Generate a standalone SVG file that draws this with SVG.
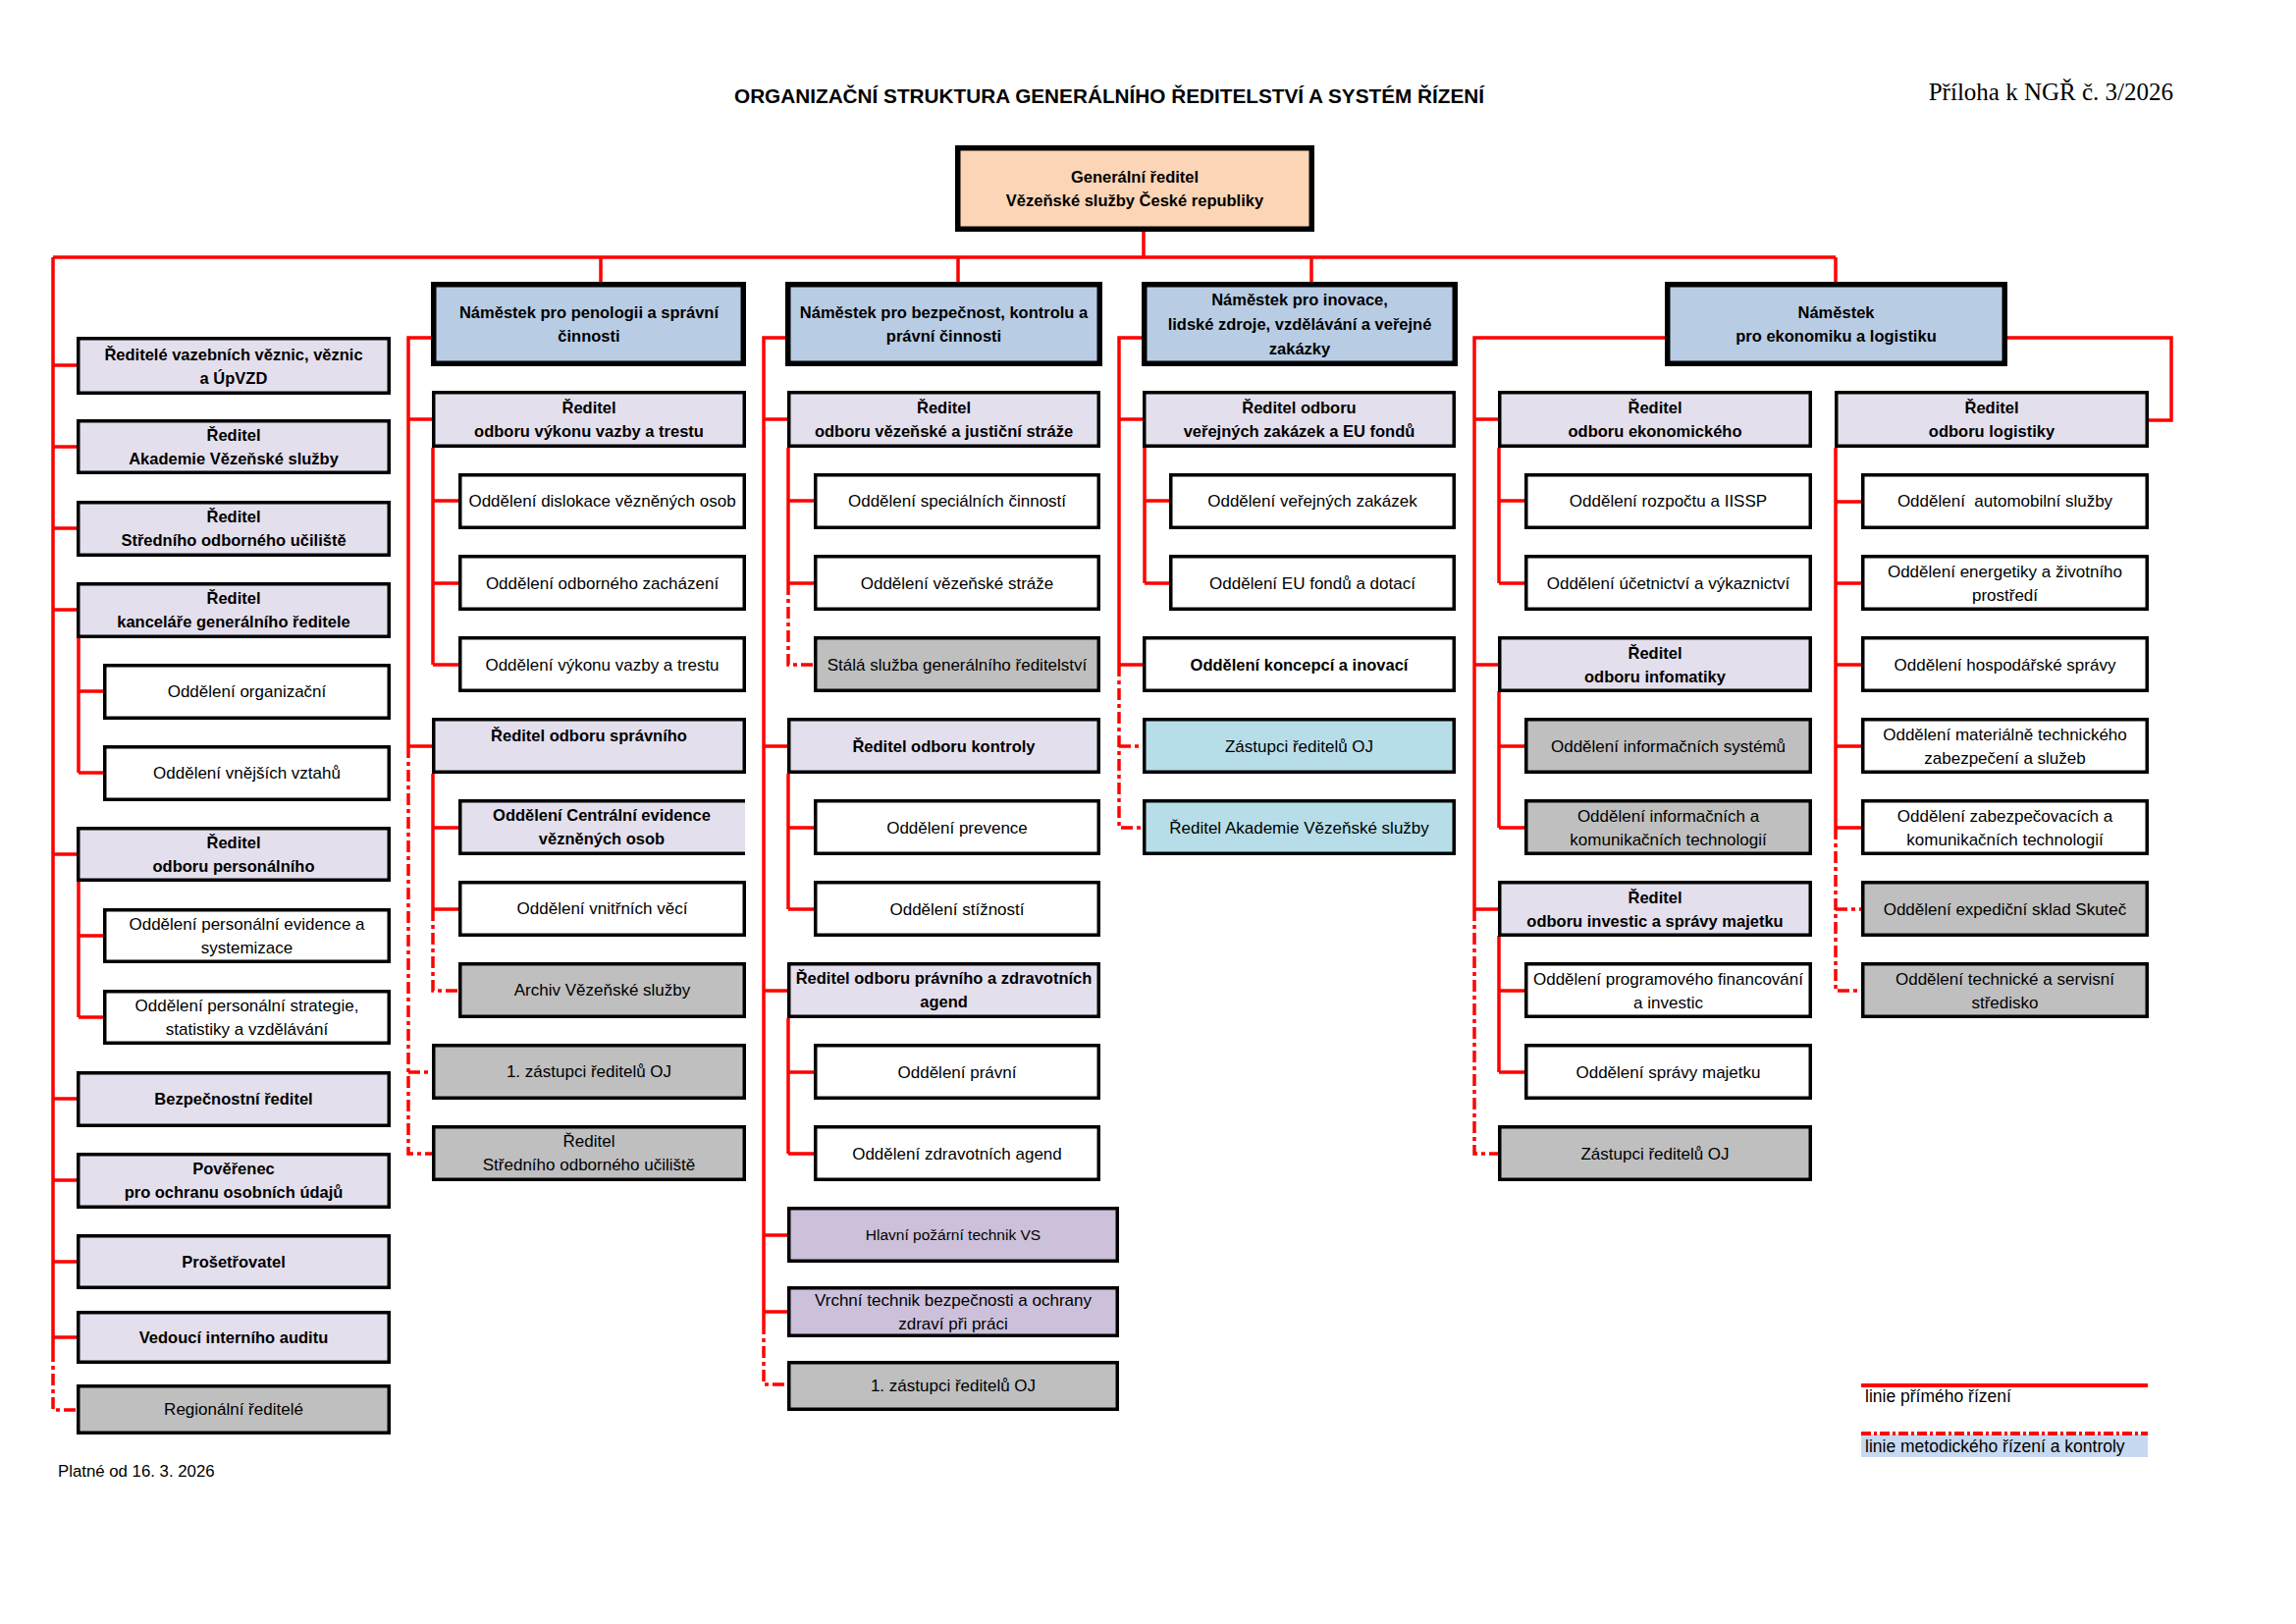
<svg xmlns="http://www.w3.org/2000/svg" width="2339" height="1654" viewBox="0 0 2339 1654">
<style>
rect.bx{stroke:#000;stroke-width:3.5}
rect.nm{stroke:#000;stroke-width:5.5;fill:#B8CCE4}
.lav{fill:#E4DFEC}.wh{fill:#FFFFFF}.gr{fill:#BFBFBF}.lb{fill:#B7DEE8}.pu{fill:#CCC0DA}
text{font-family:"Liberation Sans",Arial,sans-serif;fill:#000;text-anchor:middle}
.r{font-size:17px}
.b{font-size:16.5px;font-weight:bold}
.s{font-size:15.5px}
.ln{fill:none;stroke:#FF0000;stroke-width:3.5}
.ds{fill:none;stroke:#FF0000;stroke-width:3.5;stroke-dasharray:12 4 4 4}
</style>
<rect x="0" y="0" width="2339" height="1654" fill="#fff"/>
<text x="1130" y="105" style="font-size:20px;font-weight:bold" textLength="764" lengthAdjust="spacingAndGlyphs">ORGANIZAČNÍ STRUKTURA GENERÁLNÍHO ŘEDITELSTVÍ A SYSTÉM ŘÍZENÍ</text>
<text x="2214" y="102" style="font-family:'Liberation Serif',serif;font-size:25px;text-anchor:end">Příloha k NGŘ č. 3/2026</text>
<text x="59" y="1504" style="font-size:16.8px;text-anchor:start">Platné od 16. 3. 2026</text>

<g id="connectors">
<path class="ln" d="M1165,236V262M54,262H1870M612,262V287M976,262V287M1336,262V287M1870,262V287
M54,262V1375M54,372H78M54,455H78M54,538H78M54,621H78M54,870H78M54,1119H78M54,1202H78M54,1285H78M54,1362H78
M80,650V787M80,704H105M80,787H105M80,898V1036M80,953H105M80,1036H105
M439,344H416V760M416,427H440M416,760H440
M441,456V677M441,510H467M441,594H467M441,677H467M441,788V926M441,843H467M441,926H467
M800,344H778V1347M778,427H802M778,760H802M778,1009H802M778,1258H802M778,1336H802
M803,456V594M803,510H829M803,594H829M803,788V926M803,843H829M803,926H829M803,1037V1175M803,1092H829M803,1175H829
M1163,344H1140V677M1140,427H1164M1140,677H1164M1166,456V594M1166,510H1191M1166,594H1191
M1696,344H1502V926M1502,427H1526M1502,677H1526M1502,926H1526
M1527,456V594M1527,510H1553M1527,594H1553M1527,704V843M1527,760H1553M1527,843H1553M1527,953V1092M1527,1009H1553M1527,1092H1553
M2045,344H2212V428H2189M1870,456V843M1870,511H1896M1870,594H1896M1870,677H1896M1870,760H1896M1870,843H1896"/>
<path class="ds" d="M54,1375V1436H78M416,760V1175H440M416,1092H440M441,926V1009H467M778,1347V1410H802M803,594V677H829
M1140,677V843H1164M1140,760H1164M1502,926V1175H1526M1870,843V1009H1896M1870,926H1896"/>
</g>

<g id="gr"><rect x="975.75" y="150.75" width="360.5" height="82.5" style="fill:#FBD5B5;stroke:#000;stroke-width:5.5"/><text class="b" x="1156" y="186">Generální ředitel</text><text class="b" x="1156" y="210">Vězeňské služby České republiky</text></g>

<g id="nam-pen"><rect class="nm" x="441.75" y="289.75" width="315.5" height="80.5"/><text class="b" x="600" y="324">Náměstek pro penologii a správní</text><text class="b" x="600" y="348">činnosti</text></g>
<g id="nam-bez"><rect class="nm" x="802.75" y="289.75" width="317.5" height="80.5"/><text class="b" x="961.5" y="324">Náměstek pro bezpečnost, kontrolu a</text><text class="b" x="961.5" y="348">právní činnosti</text></g>
<g id="nam-ino"><rect class="nm" x="1165.75" y="289.75" width="316.5" height="80.5"/><text class="b" x="1324" y="311">Náměstek pro inovace,</text><text class="b" x="1324" y="336">lidské zdroje, vzdělávání a veřejné</text><text class="b" x="1324" y="361">zakázky</text></g>
<g id="nam-eko"><rect class="nm" x="1698.75" y="289.75" width="343.5" height="80.5"/><text class="b" x="1870.5" y="324">Náměstek</text><text class="b" x="1870.5" y="348">pro ekonomiku a logistiku</text></g>

<!-- left column -->
<g id="l1"><rect class="bx lav" x="79.75" y="344.75" width="316.5" height="55.5"/><text class="b" x="238" y="366.5">Ředitelé vazebních věznic, věznic</text><text class="b" x="238" y="390.5">a ÚpVZD</text></g>
<g id="l2"><rect class="bx lav" x="79.75" y="428.75" width="316.5" height="52.5"/><text class="b" x="238" y="449">Ředitel</text><text class="b" x="238" y="473">Akademie Vězeňské služby</text></g>
<g id="l3"><rect class="bx lav" x="79.75" y="511.75" width="316.5" height="53.5"/><text class="b" x="238" y="532">Ředitel</text><text class="b" x="238" y="556">Středního odborného učiliště</text></g>
<g id="l4"><rect class="bx lav" x="79.75" y="594.75" width="316.5" height="53.5"/><text class="b" x="238" y="615">Ředitel</text><text class="b" x="238" y="639">kanceláře generálního ředitele</text></g>
<g id="l5"><rect class="bx wh" x="106.75" y="677.75" width="289.5" height="53.5"/><text class="r" x="251.5" y="710">Oddělení organizační</text></g>
<g id="l6"><rect class="bx wh" x="106.75" y="760.75" width="289.5" height="53.5"/><text class="r" x="251.5" y="793">Oddělení vnějších vztahů</text></g>
<g id="l7"><rect class="bx lav" x="79.75" y="843.75" width="316.5" height="52.5"/><text class="b" x="238" y="864">Ředitel</text><text class="b" x="238" y="888">odboru personálního</text></g>
<g id="l8"><rect class="bx wh" x="106.75" y="926.75" width="289.5" height="52.5"/><text class="r" x="251.5" y="947">Oddělení personální evidence a</text><text class="r" x="251.5" y="971">systemizace</text></g>
<g id="l9"><rect class="bx wh" x="106.75" y="1009.75" width="289.5" height="52.5"/><text class="r" x="251.5" y="1030">Oddělení personální strategie,</text><text class="r" x="251.5" y="1054">statistiky a vzdělávání</text></g>
<g id="l10"><rect class="bx lav" x="79.75" y="1092.75" width="316.5" height="53.5"/><text class="b" x="238" y="1125">Bezpečnostní ředitel</text></g>
<g id="l11"><rect class="bx lav" x="79.75" y="1175.75" width="316.5" height="53.5"/><text class="b" x="238" y="1196">Pověřenec</text><text class="b" x="238" y="1220">pro ochranu osobních údajů</text></g>
<g id="l12"><rect class="bx lav" x="79.75" y="1258.75" width="316.5" height="52.5"/><text class="b" x="238" y="1291">Prošetřovatel</text></g>
<g id="l13"><rect class="bx lav" x="79.75" y="1336.75" width="316.5" height="50.5"/><text class="b" x="238" y="1368">Vedoucí interního auditu</text></g>
<g id="l14"><rect class="bx gr" x="79.75" y="1411.75" width="316.5" height="47.5"/><text class="r" x="238" y="1441">Regionální ředitelé</text></g>

<!-- penologie -->
<g id="p1"><rect class="bx lav" x="441.75" y="399.75" width="316.5" height="54.5"/><text class="b" x="600" y="421">Ředitel</text><text class="b" x="600" y="445">odboru výkonu vazby a trestu</text></g>
<g id="p2"><rect class="bx wh" x="468.75" y="483.75" width="289.5" height="53.5"/><text class="r" x="613.5" y="516">Oddělení dislokace vězněných osob</text></g>
<g id="p3"><rect class="bx wh" x="468.75" y="566.75" width="289.5" height="53.5"/><text class="r" x="613.5" y="600">Oddělení odborného zacházení</text></g>
<g id="p4"><rect class="bx wh" x="468.75" y="649.75" width="289.5" height="53.5"/><text class="r" x="613.5" y="683">Oddělení výkonu vazby a trestu</text></g>
<g id="p5"><rect class="bx lav" x="441.75" y="732.75" width="316.5" height="53.5"/><text class="b" x="600" y="755">Ředitel odboru správního</text></g>
<g id="p6"><rect class="lav" x="467" y="814" width="292" height="57"/><path d="M759,815.75H468.75V869.25H759" fill="none" stroke="#000" stroke-width="3.5"/><text class="b" x="613" y="836">Oddělení Centrální evidence</text><text class="b" x="613" y="860">vězněných osob</text></g>
<g id="p7"><rect class="bx wh" x="468.75" y="898.75" width="289.5" height="53.5"/><text class="r" x="613.5" y="931">Oddělení vnitřních věcí</text></g>
<g id="p8"><rect class="bx gr" x="468.75" y="981.75" width="289.5" height="53.5"/><text class="r" x="613.5" y="1014">Archiv Vězeňské služby</text></g>
<g id="p9"><rect class="bx gr" x="441.75" y="1064.75" width="316.5" height="53.5"/><text class="r" x="600" y="1097">1. zástupci ředitelů OJ</text></g>
<g id="p10"><rect class="bx gr" x="441.75" y="1147.75" width="316.5" height="53.5"/><text class="r" x="600" y="1168">Ředitel</text><text class="r" x="600" y="1192">Středního odborného učiliště</text></g>

<!-- bezpecnost -->
<g id="b1"><rect class="bx lav" x="803.75" y="399.75" width="315.5" height="54.5"/><text class="b" x="961.5" y="421">Ředitel</text><text class="b" x="961.5" y="445">odboru vězeňské a justiční stráže</text></g>
<g id="b2"><rect class="bx wh" x="830.75" y="483.75" width="288.5" height="53.5"/><text class="r" x="975" y="516">Oddělení speciálních činností</text></g>
<g id="b3"><rect class="bx wh" x="830.75" y="566.75" width="288.5" height="53.5"/><text class="r" x="975" y="600">Oddělení vězeňské stráže</text></g>
<g id="b4"><rect class="bx gr" x="830.75" y="649.75" width="288.5" height="53.5"/><text class="r" x="975" y="683">Stálá služba generálního ředitelství</text></g>
<g id="b5"><rect class="bx lav" x="803.75" y="732.75" width="315.5" height="53.5"/><text class="b" x="961.5" y="766">Ředitel odboru kontroly</text></g>
<g id="b6"><rect class="bx wh" x="830.75" y="815.75" width="288.5" height="53.5"/><text class="r" x="975" y="849">Oddělení prevence</text></g>
<g id="b7"><rect class="bx wh" x="830.75" y="898.75" width="288.5" height="53.5"/><text class="r" x="975" y="932">Oddělení stížností</text></g>
<g id="b8"><rect class="bx lav" x="803.75" y="981.75" width="315.5" height="53.5"/><text class="b" x="961.5" y="1002">Ředitel odboru právního a zdravotních</text><text class="b" x="961.5" y="1026">agend</text></g>
<g id="b9"><rect class="bx wh" x="830.75" y="1064.75" width="288.5" height="53.5"/><text class="r" x="975" y="1098">Oddělení právní</text></g>
<g id="b10"><rect class="bx wh" x="830.75" y="1147.75" width="288.5" height="53.5"/><text class="r" x="975" y="1181">Oddělení zdravotních agend</text></g>
<g id="b11"><rect class="bx pu" x="803.75" y="1230.75" width="334.5" height="53.5"/><text class="s" x="971" y="1263">Hlavní požární technik VS</text></g>
<g id="b12"><rect class="bx pu" x="803.75" y="1311.75" width="334.5" height="48.5"/><text class="r" x="971" y="1330">Vrchní technik bezpečnosti a ochrany</text><text class="r" x="971" y="1354">zdraví při práci</text></g>
<g id="b13"><rect class="bx gr" x="803.75" y="1387.75" width="334.5" height="47.5"/><text class="r" x="971" y="1417">1. zástupci ředitelů OJ</text></g>

<!-- inovace -->
<g id="i1"><rect class="bx lav" x="1165.75" y="399.75" width="315.5" height="54.5"/><text class="b" x="1323.5" y="421">Ředitel odboru</text><text class="b" x="1323.5" y="445">veřejných zakázek a EU fondů</text></g>
<g id="i2"><rect class="bx wh" x="1192.75" y="483.75" width="288.5" height="53.5"/><text class="r" x="1337" y="516">Oddělení veřejných zakázek</text></g>
<g id="i3"><rect class="bx wh" x="1192.75" y="566.75" width="288.5" height="53.5"/><text class="r" x="1337" y="600">Oddělení EU fondů a dotací</text></g>
<g id="i4"><rect class="bx wh" x="1165.75" y="649.75" width="315.5" height="53.5"/><text class="b" x="1323.5" y="683">Oddělení koncepcí a inovací</text></g>
<g id="i5"><rect class="bx lb" x="1165.75" y="732.75" width="315.5" height="53.5"/><text class="r" x="1323.5" y="766">Zástupci ředitelů OJ</text></g>
<g id="i6"><rect class="bx lb" x="1165.75" y="815.75" width="315.5" height="53.5"/><text class="r" x="1323.5" y="849">Ředitel Akademie Vězeňské služby</text></g>

<!-- ekonomika -->
<g id="e1"><rect class="bx lav" x="1527.75" y="399.75" width="316.5" height="54.5"/><text class="b" x="1686" y="421">Ředitel</text><text class="b" x="1686" y="445">odboru ekonomického</text></g>
<g id="e2"><rect class="bx wh" x="1554.75" y="483.75" width="289.5" height="53.5"/><text class="r" x="1699.5" y="516">Oddělení rozpočtu a IISSP</text></g>
<g id="e3"><rect class="bx wh" x="1554.75" y="566.75" width="289.5" height="53.5"/><text class="r" x="1699.5" y="600">Oddělení účetnictví a výkaznictví</text></g>
<g id="e4"><rect class="bx lav" x="1527.75" y="649.75" width="316.5" height="53.5"/><text class="b" x="1686" y="671">Ředitel</text><text class="b" x="1686" y="695">odboru infomatiky</text></g>
<g id="e5"><rect class="bx gr" x="1554.75" y="732.75" width="289.5" height="53.5"/><text class="r" x="1699.5" y="766">Oddělení informačních systémů</text></g>
<g id="e6"><rect class="bx gr" x="1554.75" y="815.75" width="289.5" height="53.5"/><text class="r" x="1699.5" y="837">Oddělení informačních a</text><text class="r" x="1699.5" y="861">komunikačních technologií</text></g>
<g id="e7"><rect class="bx lav" x="1527.75" y="898.75" width="316.5" height="53.5"/><text class="b" x="1686" y="920">Ředitel</text><text class="b" x="1686" y="944">odboru investic a správy majetku</text></g>
<g id="e8"><rect class="bx wh" x="1554.75" y="981.75" width="289.5" height="53.5"/><text class="r" x="1699.5" y="1003">Oddělení programového financování</text><text class="r" x="1699.5" y="1027">a investic</text></g>
<g id="e9"><rect class="bx wh" x="1554.75" y="1064.75" width="289.5" height="53.5"/><text class="r" x="1699.5" y="1098">Oddělení správy majetku</text></g>
<g id="e10"><rect class="bx gr" x="1527.75" y="1147.75" width="316.5" height="53.5"/><text class="r" x="1686" y="1181">Zástupci ředitelů OJ</text></g>

<!-- logistika -->
<g id="g1"><rect class="bx lav" x="1870.75" y="399.75" width="316.5" height="54.5"/><text class="b" x="2029" y="421">Ředitel</text><text class="b" x="2029" y="445">odboru logistiky</text></g>
<g id="g2"><rect class="bx wh" x="1897.75" y="483.75" width="289.5" height="53.5"/><text class="r" x="2042.5" y="516" style="white-space:pre">Oddělení  automobilní služby</text></g>
<g id="g3"><rect class="bx wh" x="1897.75" y="566.75" width="289.5" height="53.5"/><text class="r" x="2042.5" y="588">Oddělení energetiky a životního</text><text class="r" x="2042.5" y="612">prostředí</text></g>
<g id="g4"><rect class="bx wh" x="1897.75" y="649.75" width="289.5" height="53.5"/><text class="r" x="2042.5" y="683">Oddělení hospodářské správy</text></g>
<g id="g5"><rect class="bx wh" x="1897.75" y="732.75" width="289.5" height="53.5"/><text class="r" x="2042.5" y="754">Oddělení materiálně technického</text><text class="r" x="2042.5" y="778">zabezpečení a služeb</text></g>
<g id="g6"><rect class="bx wh" x="1897.75" y="815.75" width="289.5" height="53.5"/><text class="r" x="2042.5" y="837">Oddělení zabezpečovacích a</text><text class="r" x="2042.5" y="861">komunikačních technologií</text></g>
<g id="g7"><rect class="bx gr" x="1897.75" y="898.75" width="289.5" height="53.5"/><text class="r" x="2042.5" y="932">Oddělení expediční sklad Skuteč</text></g>
<g id="g8"><rect class="bx gr" x="1897.75" y="981.75" width="289.5" height="53.5"/><text class="r" x="2042.5" y="1003">Oddělení technické a servisní</text><text class="r" x="2042.5" y="1027">středisko</text></g>

<g id="legend">
<rect x="1896" y="1461" width="292" height="23" fill="#C6D9F1"/>
<path d="M1896,1411H2188" stroke="#FF0000" stroke-width="4"/>
<path d="M1896,1460H2188" stroke="#FF0000" stroke-width="4" stroke-dasharray="10 3 3 3"/>
<text x="1900" y="1428" style="font-size:17.5px;text-anchor:start">linie přímého řízení</text>
<text x="1900" y="1479" style="font-size:17.5px;text-anchor:start">linie metodického řízení a kontroly</text>
</g>
</svg>
